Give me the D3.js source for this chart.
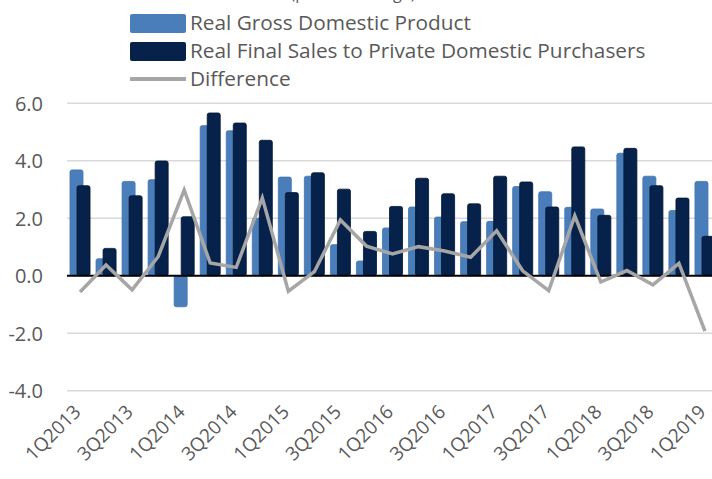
<!DOCTYPE html>
<html><head><meta charset="utf-8">
<script src="https://cdn.jsdelivr.net/npm/d3@7"></script>
<style>
body{margin:0;background:#fff}
svg{display:block}
text{font-family:'Open Sans',sans-serif;fill:#595959}
</style>
</head><body>
<svg id="chart" width="712" height="479"></svg>
<script>
const categories = ["1Q2013","2Q2013","3Q2013","4Q2013","1Q2014","2Q2014","3Q2014","4Q2014","1Q2015","2Q2015","3Q2015","4Q2015","1Q2016","2Q2016","3Q2016","4Q2016","1Q2017","2Q2017","3Q2017","4Q2017","1Q2018","2Q2018","3Q2018","4Q2018","1Q2019"];
const gdp = [3.68,0.59,3.28,3.34,-1.08,5.22,5.04,2.00,3.43,3.46,1.08,0.51,1.66,2.39,2.04,1.88,1.89,3.10,2.92,2.38,2.32,4.26,3.46,2.27,3.28];
const finalSales = [3.13,0.95,2.78,3.99,2.05,5.66,5.31,4.71,2.89,3.58,3.01,1.54,2.41,3.39,2.85,2.50,3.46,3.26,2.39,4.48,2.10,4.43,3.13,2.70,1.37];
const difference = [-0.57,0.37,-0.49,0.66,2.98,0.44,0.29,2.71,-0.54,0.14,1.94,1.03,0.76,1.01,0.86,0.64,1.56,0.17,-0.52,2.08,-0.22,0.18,-0.32,0.43,-1.93];
const yTicks = [-4,-2,0,2,4,6];
const yTickLabels = ["-4.0","-2.0","0.0","2.0","4.0","6.0"];
const xTickLabels = ["1Q2013","3Q2013","1Q2014","3Q2014","1Q2015","3Q2015","1Q2016","3Q2016","1Q2017","3Q2017","1Q2018","3Q2018","1Q2019"];
const seriesNames = ["Real Gross Domestic Product","Real Final Sales to Private Domestic Purchasers","Difference"];
const titleText = "(percent change)";

const colors = {gdp:"#4a7ebb", sales:"#06214a", diff:"#a6a6a6", grid:"#d9d9d9"};

const svg = d3.select("#chart");
const plotLeft = 67, band = 26.04;
const x = d3.scaleBand().domain(categories).range([plotLeft, plotLeft + band*categories.length]).padding(0);
const y = d3.scaleLinear().domain([-4,6]).range([390.7,103.2]);
const bw = x.bandwidth();

// title (clipped at top edge in the reference)
svg.append("text").attr("x",353).attr("y",-1).attr("text-anchor","middle")
  .style("font-size","16px").text(titleText);

// gridlines
svg.append("g").selectAll("line").data(yTicks.filter(t=>t!==0)).join("line")
  .attr("x1",plotLeft).attr("x2",712)
  .attr("y1",d=>y(d)).attr("y2",d=>y(d))
  .attr("stroke",colors.grid).attr("stroke-width",1.5);

// y axis labels
const yAxis = d3.axisLeft(y).tickValues(yTicks).tickSize(0).tickPadding(0)
  .tickFormat((d,i)=>yTickLabels[i]);
const gy = svg.append("g").attr("transform","translate(43,0)").call(yAxis);
gy.select(".domain").remove();
gy.selectAll("text").style("font-size","20px").attr("fill","#595959").attr("dy","0.35em");

// bars
const gBars = svg.append("g");
gBars.selectAll("rect.gdp").data(categories).join("rect").attr("class","gdp")
  .attr("x",c=>x(c)+bw*0.115).attr("width",bw*0.5)
  .attr("y",(c,i)=>Math.min(y(gdp[i]),y(0)))
  .attr("height",(c,i)=>Math.abs(y(gdp[i])-y(0)))
  .attr("rx",2).attr("fill",colors.gdp).attr("stroke","#4373ad").attr("stroke-width",0.8);
gBars.selectAll("rect.sales").data(categories).join("rect").attr("class","sales")
  .attr("x",c=>x(c)+bw*0.385).attr("width",bw*0.5)
  .attr("y",(c,i)=>Math.min(y(finalSales[i]),y(0)))
  .attr("height",(c,i)=>Math.abs(y(finalSales[i])-y(0)))
  .attr("rx",2).attr("fill",colors.sales).attr("stroke","#031633").attr("stroke-width",0.8);

// zero line
svg.append("line").attr("x1",plotLeft).attr("x2",712).attr("y1",y(0)).attr("y2",y(0))
  .attr("stroke","#000").attr("stroke-width",2);

// difference line
const line = d3.line().x((d,i)=>x(categories[i])+bw/2).y(d=>y(d));
svg.append("path").datum(difference).attr("d",line)
  .attr("fill","none").attr("stroke",colors.diff).attr("stroke-width",3.5).attr("stroke-linejoin","miter");

// x axis labels
const xAxis = d3.axisBottom(x).tickValues(xTickLabels).tickSize(0).tickPadding(0);
const gx = svg.append("g").call(xAxis);
gx.select(".domain").remove();
gx.selectAll(".tick").attr("transform",d=>`translate(${x(d)+bw/2+2},413)`);
gx.selectAll("text").attr("x",0).attr("y",0).attr("dy",0).attr("text-anchor","end")
  .attr("transform","rotate(-45)").style("font-size","19px").attr("fill","#595959");

// legend
const lg = svg.append("g");
lg.append("rect").attr("x",130).attr("y",14).attr("width",56).attr("height",19).attr("rx",2).attr("fill",colors.gdp);
lg.append("rect").attr("x",130).attr("y",42).attr("width",56).attr("height",19).attr("rx",2).attr("fill",colors.sales);
lg.append("line").attr("x1",130).attr("x2",186).attr("y1",79).attr("y2",79).attr("stroke",colors.diff).attr("stroke-width",4);
lg.selectAll("text").data(seriesNames).join("text")
  .attr("x",190).attr("y",(d,i)=>30+i*28).style("font-size","20.8px").text(d=>d);
</script>
</body></html>
